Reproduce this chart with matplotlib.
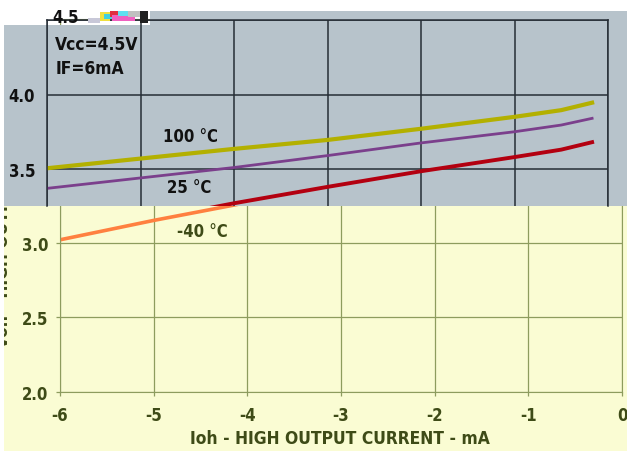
import numpy as np
import matplotlib
matplotlib.use("Agg")
import matplotlib.pyplot as plt
from matplotlib.patches import Rectangle
from matplotlib import font_manager

# pick a narrow bold face if one is around
faces = font_manager.fontManager.ttflist
names = {f.name for f in faces}
if 'Liberation Sans Narrow' in names:
    plt.rcParams['font.family'] = ['Liberation Sans Narrow', 'DejaVu Sans']
elif any(f.name == 'DejaVu Sans' and f.stretch == 'condensed' for f in faces):
    plt.rcParams['font.family'] = ['DejaVu Sans']
    plt.rcParams['font.stretch'] = 'condensed'
else:
    plt.rcParams['font.family'] = ['DejaVu Sans']
plt.rcParams['font.weight'] = 'bold'
plt.rcParams['axes.labelweight'] = 'bold'

# data
ioh = [-6, -5, -4, -3, -2, -1, -0.5, -0.17]
v_100 = [3.505, 3.57, 3.635, 3.695, 3.77, 3.85, 3.895, 3.945]
v_25 = [3.37, 3.44, 3.51, 3.59, 3.675, 3.75, 3.795, 3.84]
v_m40 = [3.02, 3.15, 3.27, 3.38, 3.485, 3.58, 3.63, 3.68]
xticks = [-6, -5, -4, -3, -2, -1, 0]
yticks = [2.0, 2.5, 3.0, 3.5, 4.0, 4.5]

W, H = 627, 452
fig = plt.figure(figsize=(W / 100, H / 100), dpi=100)
fig.patch.set_facecolor('white')


def box(x0, y0, x1, y1):
    # pixel box (top-left origin) -> figure fraction rect
    return [x0 / W, 1 - y1 / H, (x1 - x0) / W, (y1 - y0) / H]


def rect(x0, y0, x1, y1, color, z):
    l, b, w, h = box(x0, y0, x1, y1)
    fig.patches.append(Rectangle((l, b), w, h, transform=fig.transFigure,
                                 facecolor=color, edgecolor='none', zorder=z))


YEL = '#fafcd3'
GRAY = '#b7c3cb'
OLIVE = '#8d9c5e'
OLTXT = '#3e4b17'
DARK = '#262d35'
BLK = '#111111'
FS_TICK = 12
FS_NOTE = 12.5
FS_LAB = 12.5

# ---- bottom layer: yellow chart ----
rect(4, 207, 627, 452, YEL, -1)
ax1 = fig.add_axes(box(60, 20, 622, 393), zorder=0)
ax1.set_facecolor('none')
ax1.set_xlim(-6, 0)
ax1.set_ylim(2.0, 4.5)
ax1.set_xticks(xticks)
ax1.set_yticks(yticks)
ax1.set_xticklabels([str(t) for t in xticks])
# upper labels sit under the grey layer anyway
ax1.set_yticklabels([f'{t:.1f}' if t < 3.5 else '' for t in yticks])
ax1.grid(True, color=OLIVE, lw=0.9)
for s in ['left', 'bottom', 'right', 'top']:
    ax1.spines[s].set_color(OLIVE)
ax1.tick_params(colors=OLIVE, labelcolor=OLTXT, labelsize=FS_TICK, length=3,
                width=0.9, pad=7)
ax1.tick_params(axis='y', pad=5.5)
ax1.plot(ioh, v_100, color='#b3b000', lw=3)
ax1.plot(ioh, v_25, color='#7b3f8c', lw=2)
ax1.plot(ioh, v_m40, color='#ff8040', lw=2.6)
ax1.text(-4.48, 3.08, '-40 °C', color=OLTXT, fontsize=FS_TICK, ha='center', va='center')
fig.text(340 / W, 1 - 439 / H, 'Ioh - HIGH OUTPUT CURRENT - mA', color=OLTXT,
         fontsize=FS_LAB, ha='center', va='center')
fig.text(3 / W, 1 - 206 / H, 'Voh - HIGH OUTPUT VOLTAGE - V', rotation=90,
         color=OLTXT, fontsize=FS_LAB, ha='center', va='center', zorder=0.5)

# ---- top layer: grey chart, shifted left ----
rect(4, 26, 627, 207, GRAY, 1)
rect(150, 12, 627, 26, GRAY, 1)
rect(0, 0, 4, 452, 'white', 1.5)

ax2 = fig.add_axes(box(47, 21, 608, 207), zorder=2)
ax2.set_facecolor('none')
ax2.set_xlim(-6, 0)
ax2.set_ylim(3.5 - 37 / 149, 4.5)
ax2.set_xticks(xticks)
ax2.set_yticks([3.5, 4.0, 4.5])
ax2.set_yticklabels(['3.5', '4.0', ''])
ax2.set_xticklabels([])
ax2.grid(True, color=DARK, lw=1.1)
ax2.spines['bottom'].set_visible(False)
for s in ['left', 'right', 'top']:
    ax2.spines[s].set_color(DARK)
    ax2.spines[s].set_linewidth(1.1)
ax2.tick_params(length=0, labelcolor=BLK, labelsize=FS_TICK, pad=8.5)
ax2.plot(ioh, v_100, color='#b3b000', lw=3)
ax2.plot(ioh, v_25, color='#7b3f8c', lw=2)
ax2.plot(ioh, v_m40, color='#b30010', lw=2.8)
ax2.text(-5.91, 4.34, 'Vcc=4.5V', color=BLK, fontsize=FS_NOTE, va='center')
ax2.text(-5.91, 4.175, 'IF=6mA', color=BLK, fontsize=FS_NOTE, va='center')
ax2.text(-4.46, 3.72, '100 °C', color=BLK, fontsize=FS_TICK, ha='center', va='center')
ax2.text(-4.48, 3.38, '25 °C', color=BLK, fontsize=FS_TICK, ha='center', va='center')

# stray bits at the top edge
fig.text(52 / W, 1 - 18 / H, '4.5', color=BLK, fontsize=FS_TICK, va='center')
rect(88, 19, 100, 24, '#c8c8d8', 3)
rect(100, 13, 110, 22, '#f0e040', 3)
rect(104, 15, 112, 20, '#40d0e0', 3)
rect(110, 12, 118, 18, '#e03040', 3)
rect(112, 16, 135, 22, '#f060c0', 3)
rect(118, 12, 128, 17, '#60e0f0', 3)
rect(128, 12, 140, 18, '#c0c0c0', 3)
rect(140, 12, 148, 24, '#202020', 3)

fig.savefig('out.png', dpi=100)
